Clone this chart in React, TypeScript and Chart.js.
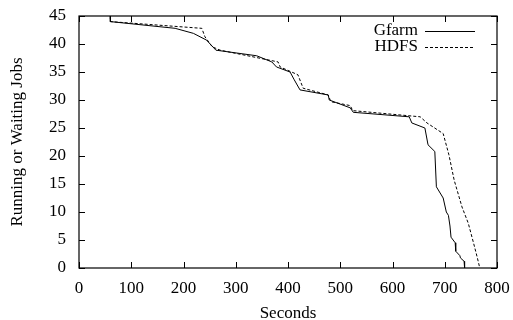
import React, { useEffect, useRef } from "react";
import { Chart, registerables } from "chart.js";

Chart.register(...registerables);

const gfarmX = [60, 60, 184, 219, 244, 262, 340, 369, 378, 404, 412, 423, 477, 479, 519, 525, 632, 637, 662, 668, 681, 684, 697, 703, 707, 710, 712, 720, 721, 729, 730, 737, 738];
const gfarmY = [45, 44, 42.8, 41.9, 40.7, 38.9, 37.9, 36.8, 35.9, 35, 33.6, 31.8, 30.9, 30, 28.6, 27.8, 27, 25.9, 25, 22, 20.8, 14.5, 12.5, 10, 9.4, 7.5, 5.5, 4.5, 3, 2.2, 1.8, 1.2, 0];

const hdfsX = [60, 60, 235, 241, 255, 270, 381, 385, 419, 429, 477, 482, 519, 524, 653, 666, 697, 708, 718, 733, 745, 755, 760, 764, 767];
const hdfsY = [45, 44, 42.8, 41.3, 39.5, 38.9, 36.8, 35.9, 34.5, 32.1, 30.9, 29.7, 29, 28.1, 27, 25.9, 24, 20.2, 15.7, 10.9, 8, 4.5, 2.7, 1.2, 0];

const seriesLabels = ["Gfarm", "HDFS"];
const xTitle = "Seconds";
const yTitle = "Running or Waiting Jobs";

const FONT = "'Liberation Serif', 'DejaVu Serif', serif";

const framePlugin = {
  id: "gnuplotFrame",
  afterDatasetsDraw(chart: any) {
    const { ctx, chartArea } = chart;
    const { left, right, top, bottom } = chartArea;
    const xs = chart.scales.x;
    const ys = chart.scales.y;
    const tl = 6;
    ctx.save();
    ctx.strokeStyle = "#000";
    ctx.lineWidth = 1.2;
    ctx.setLineDash([]);
    ctx.strokeRect(left, top, right - left, bottom - top);
    ctx.lineWidth = 1;
    ctx.beginPath();
    xs.ticks.forEach((t: any) => {
      const px = Math.round(xs.getPixelForValue(t.value)) + 0.5;
      ctx.moveTo(px, bottom);
      ctx.lineTo(px, bottom - tl);
      ctx.moveTo(px, top);
      ctx.lineTo(px, top + tl);
    });
    ys.ticks.forEach((t: any) => {
      const py = Math.round(ys.getPixelForValue(t.value)) + 0.5;
      ctx.moveTo(left, py);
      ctx.lineTo(left + tl, py);
      ctx.moveTo(right, py);
      ctx.lineTo(right - tl, py);
    });
    ctx.stroke();

    // legend (gnuplot style, text then sample)
    ctx.font = "17px " + FONT;
    ctx.fillStyle = "#000";
    ctx.textAlign = "right";
    ctx.textBaseline = "middle";
    const textRight = 418;
    const sx0 = 425;
    const sx1 = 475;
    chart.data.datasets.forEach((ds: any, i: number) => {
      const y = 31 + i * 16;
      ctx.fillText(ds.label, textRight, y);
      ctx.beginPath();
      ctx.lineWidth = 1;
      ctx.setLineDash(ds.borderDash || []);
      ctx.moveTo(sx0, y + 0.5);
      ctx.lineTo(sx1, y + 0.5);
      ctx.stroke();
    });
    ctx.restore();
  },
};

export default function App() {
  const ref = useRef<HTMLCanvasElement>(null);
  useEffect(() => {
    if (!ref.current) return;
    const chart = new Chart(ref.current, {
      type: "line",
      data: {
        datasets: [
          {
            label: seriesLabels[0],
            data: gfarmX.map((x, i) => ({ x, y: gfarmY[i] })),
            borderColor: "#000",
            borderWidth: 1,
            pointRadius: 0,
            tension: 0,
            fill: false,
          },
          {
            label: seriesLabels[1],
            data: hdfsX.map((x, i) => ({ x, y: hdfsY[i] })),
            borderColor: "#000",
            borderWidth: 1,
            borderDash: [3, 2],
            pointRadius: 0,
            tension: 0,
            fill: false,
          },
        ],
      },
      options: {
        animation: false,
        responsive: false,
        maintainAspectRatio: false,
        layout: { padding: { left: 0, top: 16, right: 16, bottom: 0 } },
        plugins: {
          legend: { display: false },
          tooltip: { enabled: false },
        },
        scales: {
          x: {
            type: "linear",
            min: 0,
            max: 800,
            ticks: {
              stepSize: 100,
              color: "#000",
              padding: 10,
              maxRotation: 0,
              font: { family: FONT, size: 17 },
            },
            grid: { display: false, drawTicks: false },
            border: { display: false },
            title: {
              display: true,
              text: xTitle,
              color: "#000",
              font: { family: FONT, size: 17 },
              padding: { top: 0, bottom: -4 },
            },
            afterFit: (s: any) => {
              s.height = 52;
              s.paddingLeft = 0;
              s.paddingRight = 0;
            },
          },
          y: {
            type: "linear",
            min: 0,
            max: 45,
            ticks: {
              stepSize: 5,
              color: "#000",
              padding: 13,
              font: { family: FONT, size: 17 },
            },
            grid: { display: false, drawTicks: false },
            border: { display: false },
            title: {
              display: true,
              text: yTitle,
              color: "#000",
              font: { family: FONT, size: 17 },
              padding: { top: 7, bottom: 0 },
            },
            afterFit: (s: any) => {
              s.width = 79;
              s.paddingTop = 0;
              s.paddingBottom = 0;
            },
          },
        },
      },
      plugins: [framePlugin],
    });
    return () => chart.destroy();
  }, []);
  return (
    <div style={{ position: "fixed", left: 0, top: 0, width: 513, height: 320, background: "#fff" }}>
      <canvas ref={ref} width={513} height={320} style={{ width: 513, height: 320 }} />
    </div>
  );
}
